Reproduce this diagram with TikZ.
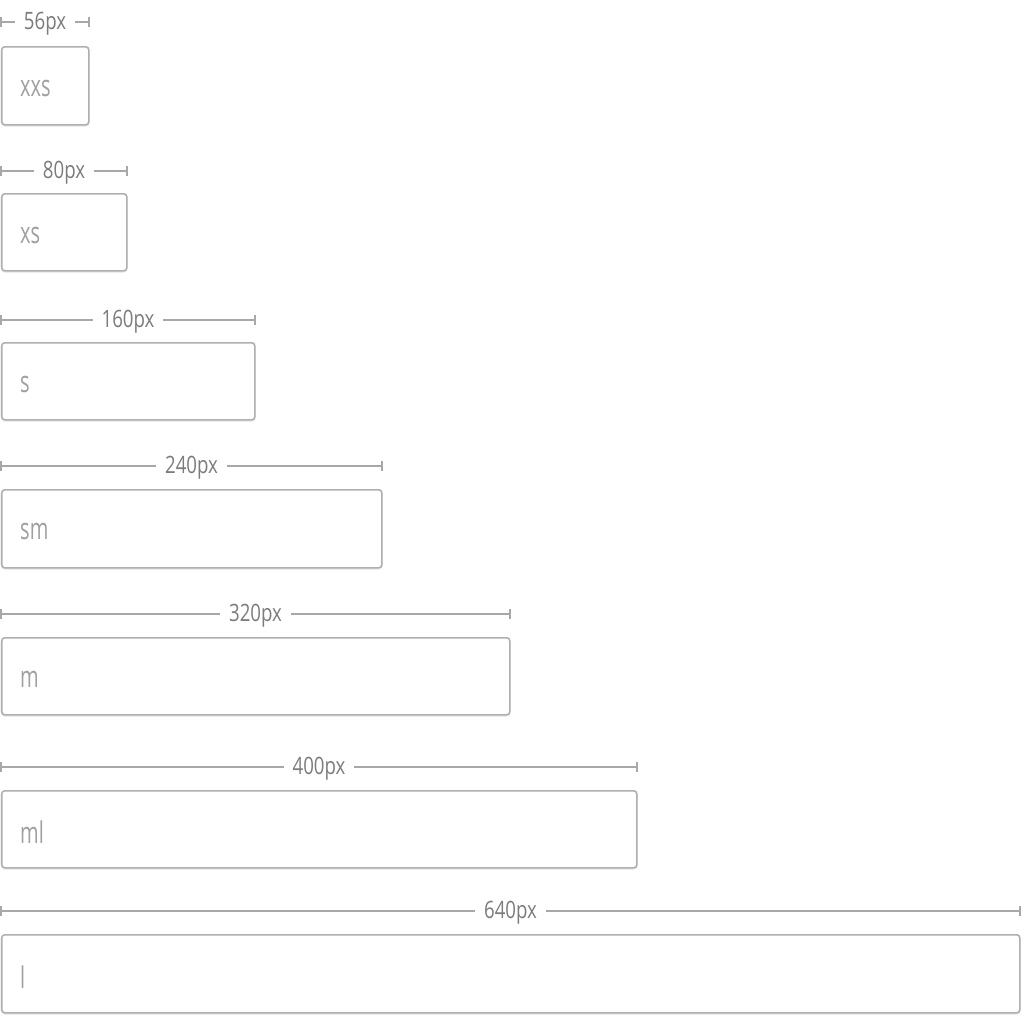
\documentclass[tikz,border=0pt]{standalone}
\usepackage{fontspec}
\setmainfont{Open Sans}
\usetikzlibrary{calc}
\definecolor{boxline}{HTML}{B0B0B0}
\definecolor{boxshade}{HTML}{E4E4E4}
\definecolor{dimline}{HTML}{A8A8A8}
\definecolor{dimtext}{HTML}{7C7C7C}
\definecolor{boxtext}{HTML}{A0A0A0}
\begin{document}
\begin{tikzpicture}[x=1bp,y=-1bp,
  field/.style={draw=boxline, line width=1.6bp, rounded corners=3bp, fill=white,
    anchor=north west, inner sep=0pt},
  fieldshade/.style={draw=boxshade, line width=2bp, rounded corners=3bp},
  dimrule/.style={draw=dimline, line width=1.2bp},
  dimtag/.style={fill=white, inner xsep=9bp, inner ysep=1bp, text=dimtext,
    font=\fontsize{24}{24}\selectfont},
  fieldtag/.style={anchor=west, text=boxtext, inner sep=0pt,
    font=\fontsize{30}{30}\selectfont}]
\useasboundingbox[fill=white] (0,0) rectangle (1024,1024);
% name / right edge / top / bottom / rule height / width label
\foreach \n/\r/\t/\b/\d/\w in {
    xxs/88/46/124/22/56,
    xs/126/193/270/171/80,
    s/254/342/419/320/160,
    sm/381/489/567/466/240,
    m/509/637/714/614/320,
    ml/636/790/867/767/400,
    l/1019/934/1012/911/640}{
  % soft shadow under the field
  \draw[fieldshade] (2,{\t+2}) rectangle ({\r+0.5},{\b+1.5});
  % the field itself
  \node[field, minimum width={(\r-1)*1bp}, minimum height={(\b-\t)*1bp}]
    (B-\n) at (1,\t) {};
  \node[fieldtag] (T-\n) at ([xshift=19bp,yshift=-3bp]B-\n.west) {\scalebox{0.67}[1]{\n}};
  % width rule with end ticks
  \coordinate (L-\n) at (1,\d);
  \coordinate (R-\n) at ({\r+1},\d);
  \draw[dimrule] (L-\n) -- (R-\n);
  \draw[dimrule] ([yshift=-5bp]L-\n) -- ([yshift=5bp]L-\n);
  \draw[dimrule] ([yshift=-5bp]R-\n) -- ([yshift=5bp]R-\n);
  \node[dimtag, yshift=-2bp] (D-\n) at ($(L-\n)!0.5!(R-\n)$) {\scalebox{0.78}[1]{\w{}px}};
}
\end{tikzpicture}
\end{document}
